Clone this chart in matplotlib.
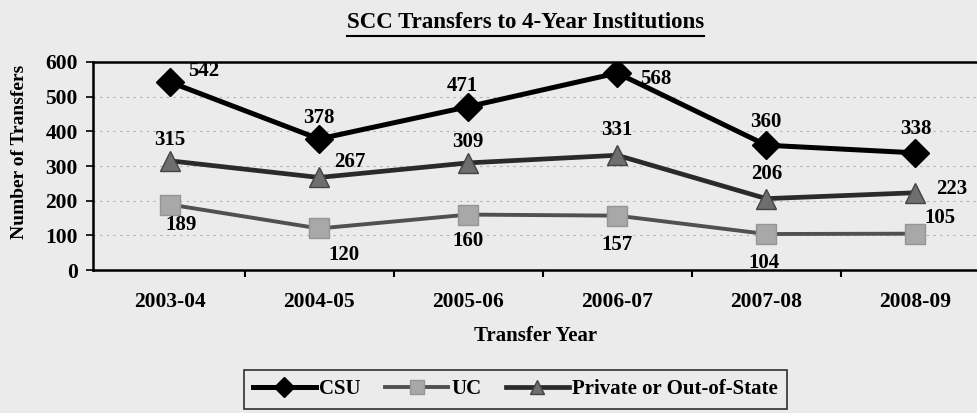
import numpy as np
import matplotlib
matplotlib.use("Agg")
import matplotlib.pyplot as plt
from matplotlib.lines import Line2D

# chart data
years = ["2003-04", "2004-05", "2005-06", "2006-07", "2007-08", "2008-09"]
csu = [542, 378, 471, 568, 360, 338]
uc = [189, 120, 160, 157, 104, 105]
private = [315, 267, 309, 331, 206, 223]

# label offsets in points (dx, dy) for each series
csu_off = [(24, 8), (0, 15), (-4, 15), (28, -4), (0, 17), (0, 17)]
uc_off = [(8, -15), (18, -19), (0, -19), (0, -21), (-2, -21), (18, 11)]
priv_off = [(0, 15), (22, 11), (0, 15), (0, 18), (0, 18), (26, 3)]

bg = "#ebebeb"
plt.rcParams['font.family'] = ['Liberation Serif', 'DejaVu Serif']
plt.rcParams['font.weight'] = 'bold'

fig = plt.figure(figsize=(9.78, 4.13), dpi=100, facecolor=bg)
ax = fig.add_axes([0.095, 0.346, 0.905, 0.504])
ax.set_facecolor(bg)

x = np.arange(len(years))
ax.plot(x, csu, color="black", lw=3.6, marker="D", ms=14, mfc="black", mec="black", label="CSU", zorder=4)
ax.plot(x, uc, color="#505050", lw=2.8, marker="s", ms=15, mfc="#a8a8a8", mec="#959595", label="UC", zorder=3)
ax.plot(x, private, color="#2a2a2a", lw=3.4, marker="^", ms=15, mfc="#6e6e6e", mec="#444444",
        label="Private or Out-of-State", zorder=3)

for series, offs in ((csu, csu_off), (uc, uc_off), (private, priv_off)):
    for xi, v, (dx, dy) in zip(x, series, offs):
        ax.annotate(str(v), (xi, v), xytext=(dx, dy), textcoords="offset points",
                    ha="center", va="center", fontsize=15, fontweight="bold", zorder=5)

ax.set_xlim(-0.517, 5.42)
ax.set_ylim(0, 600)
ax.set_yticks(range(0, 601, 100))
ax.set_xticks(x)
ax.set_xticklabels(years)
ax.set_xticks(x[:-1] + 0.5, minor=True)
ax.tick_params(axis="x", which="major", length=0, pad=16, labelsize=15.5)
ax.tick_params(axis="x", which="minor", length=5, width=1.5, direction="out")
ax.tick_params(axis="y", length=5, width=1.2, labelsize=15.5, pad=6)

ax.grid(axis="y", color="#b0b0b0", ls=(0, (2, 4)), lw=0.8)
for s in ("left", "bottom", "top"):
    ax.spines[s].set_linewidth(1.8)
ax.spines["right"].set_visible(False)

ax.set_xlabel("Transfer Year", fontsize=15, fontweight="bold", labelpad=10)
ax.set_ylabel("Number of Transfers", fontsize=14, fontweight="bold")
ax.yaxis.set_label_coords(-0.073, 0.57)

title = fig.text(0.537, 0.945, "SCC Transfers to 4-Year Institutions", ha="center", va="center",
                 fontsize=16.5, fontweight="bold")

leg = fig.legend(loc="upper center", bbox_to_anchor=(0.527, 0.104), ncol=3, frameon=True,
                 fontsize=15, handlelength=3.0, columnspacing=1.2, handletextpad=0.15,
                 fancybox=False, edgecolor="black", facecolor=bg, borderpad=0.45,
                 borderaxespad=0)
leg.get_frame().set_linewidth(1.2)
for h in leg.legend_handles:
    h.set_markersize(10)

# underline the title
fig.canvas.draw()
bb = title.get_window_extent().transformed(fig.transFigure.inverted())
fig.add_artist(Line2D([bb.x0, bb.x1], [bb.y0 - 0.006, bb.y0 - 0.006], color="black", lw=1.5,
                      transform=fig.transFigure))

fig.savefig("out.png", dpi=100, facecolor=bg)
